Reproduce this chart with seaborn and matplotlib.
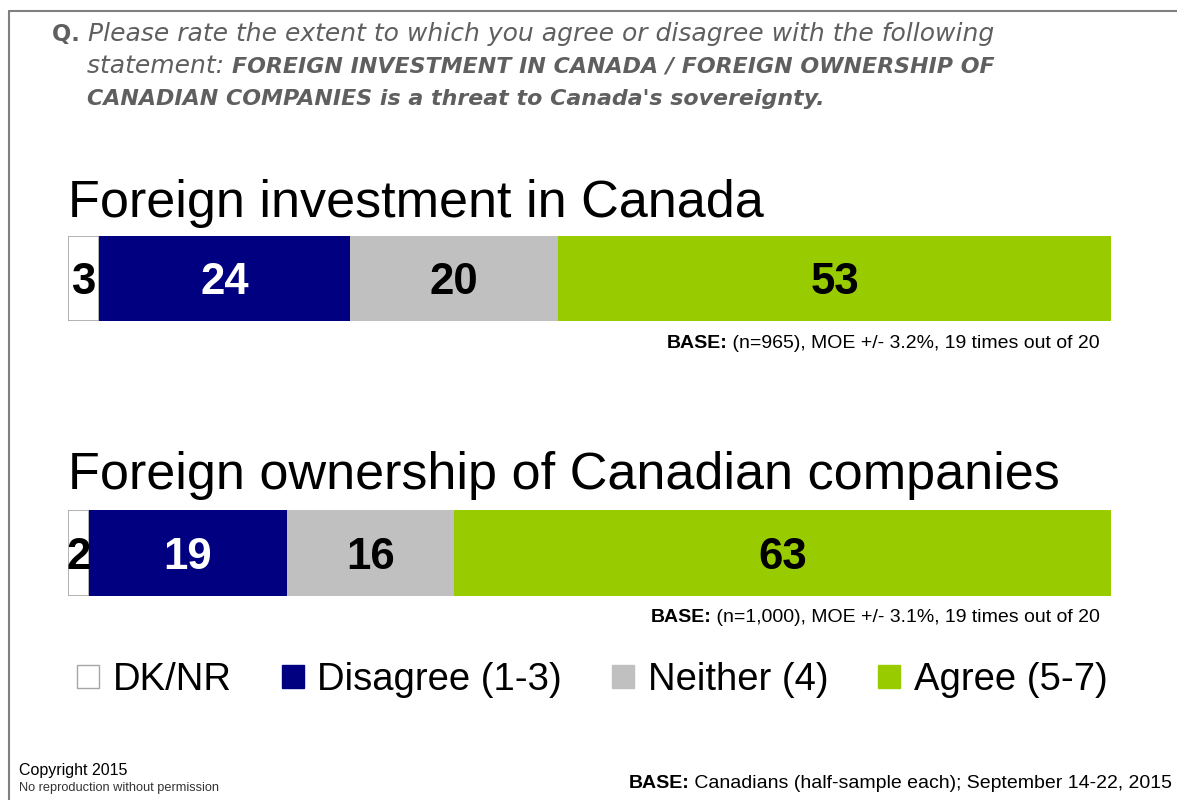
import matplotlib
matplotlib.use("Agg")
import matplotlib.pyplot as plt
from matplotlib.lines import Line2D
from matplotlib.patches import Patch
import pandas as pd
import seaborn as sns

# ---- data -------------------------------------------------------------
responses = ["DK/NR", "Disagree (1-3)", "Neither (4)", "Agree (5-7)"]
investment_values = [3, 24, 20, 53]
ownership_values = [2, 19, 16, 63]
item_titles = ["Foreign investment in Canada",
               "Foreign ownership of Canadian companies"]
base_notes = ["(n=965), MOE +/- 3.2%, 19 times out of 20",
              "(n=1,000), MOE +/- 3.1%, 19 times out of 20"]
footer_note = "Canadians (half-sample each); September 14-22, 2015"

colors = ["#FFFFFF", "#000080", "#C0C0C0", "#99CC00"]
label_colors = ["black", "white", "black", "black"]

W, H = 1177, 800
sns.set_theme(style="white")
plt.rcParams["font.family"] = ["Liberation Sans", "DejaVu Sans"]
plt.rcParams["text.color"] = "black"

fig = plt.figure(figsize=(W / 100, H / 100), dpi=100)
fig.patch.set_facecolor("white")
renderer = fig.canvas.get_renderer()


def fx(x):
    return x / W


def fy(y):
    return 1 - y / H


def run_text(x, y, pieces, align="left"):
    """Draw consecutive styled pieces on one baseline (pixel coordinates)."""
    artists = []
    for txt, props in pieces:
        t = fig.text(fx(x), fy(y), txt, ha="left", va="baseline", **props)
        artists.append(t)
    widths = [t.get_window_extent(renderer=renderer).width for t in artists]
    start = x - sum(widths) if align == "right" else x
    for t, w in zip(artists, widths):
        t.set_x(fx(start))
        start += w


# frame lines (left and top)
fig.add_artist(Line2D([fx(8.5), fx(8.5)], [fy(10.5), 0], color="#7F7F7F", lw=1.5))
fig.add_artist(Line2D([fx(8.5), 1], [fy(10.5), fy(10.5)], color="#7F7F7F", lw=1.5))

# ---- question text with mixed styles ---------------------------------
qcolor = "#5F5F5F"
q_reg = dict(family=["DejaVu Sans"], fontsize=18.0, color=qcolor, style="italic")
q_bold = dict(family=["DejaVu Sans"], fontsize=15.9, color=qcolor, style="italic", weight="bold")
q_mark = dict(family=["DejaVu Sans"], fontsize=16.3, color=qcolor, weight="bold")

run_text(52, 41, [("Q. ", q_mark),
                  ("Please rate the extent to which you agree or disagree with the following", q_reg)])
run_text(87, 73, [("statement: ", q_reg),
                  ("FOREIGN INVESTMENT IN CANADA / FOREIGN OWNERSHIP OF", q_bold)])
run_text(87, 105, [("CANADIAN COMPANIES is a threat to Canada's sovereignty.", q_bold)])

note_bold = dict(fontsize=14, color="black", weight="bold")
note_reg = dict(fontsize=14, color="black")

# ---- stacked bars -------------------------------------------------------
bar_left, bar_right = 68, 1111
panels = [
    (investment_values, 236, 321, 217, 348),
    (ownership_values, 510, 596, 489, 622),
]

for (values, top, bottom, title_base, note_base), title, note in zip(panels, item_titles, base_notes):
    ax = fig.add_axes([fx(bar_left), fy(bottom), (bar_right - bar_left) / W, (bottom - top) / H])
    df = pd.DataFrame({"item": [title] * len(values), "response": responses, "value": values})
    df["start"] = df["value"].cumsum() - df["value"]
    for i, row in df.iterrows():
        edge = "#A6A6A6" if i == 0 else colors[i]
        sns.barplot(data=df.iloc[[i]], x="value", y="item", orient="h",
                    color=colors[i], saturation=1, width=1, left=row["start"],
                    edgecolor=edge, linewidth=1.2 if i == 0 else 0, ax=ax)
        ax.text(row["start"] + row["value"] / 2, 0, str(row["value"]),
                ha="center", va="center_baseline", fontsize=31.5, weight="bold",
                color=label_colors[i])
    ax.set_xlim(0, 100)
    ax.set_ylim(0.5, -0.5)
    ax.axis("off")

    fig.text(fx(bar_left), fy(title_base), title, fontsize=37.5, color="black",
             ha="left", va="baseline")
    run_text(1100, note_base, [("BASE:", note_bold), (" " + note, note_reg)], align="right")

# ---- legend -------------------------------------------------------------
handles = [Patch(facecolor=c, edgecolor="#A6A6A6" if i == 0 else c, linewidth=1)
           for i, c in enumerate(colors)]
leg = fig.legend(handles, responses, loc="center left", bbox_to_anchor=(fx(77), fy(680)),
                 ncol=4, frameon=False, fontsize=27.5, handlelength=0.58, handleheight=0.58,
                 handletextpad=0.36, columnspacing=1.3, borderaxespad=0, borderpad=0)
for t in leg.get_texts():
    t.set_color("black")

# ---- footer -------------------------------------------------------------
fig.text(fx(19), fy(775), "Copyright 2015", fontsize=11.5, color="black",
         ha="left", va="baseline")
fig.text(fx(19), fy(791), "No reproduction without permission", fontsize=9.2,
         color="#333333", ha="left", va="baseline")
run_text(1172, 788, [("BASE:", note_bold), (" " + footer_note, note_reg)], align="right")

fig.savefig("out.png", dpi=100, facecolor="white")
